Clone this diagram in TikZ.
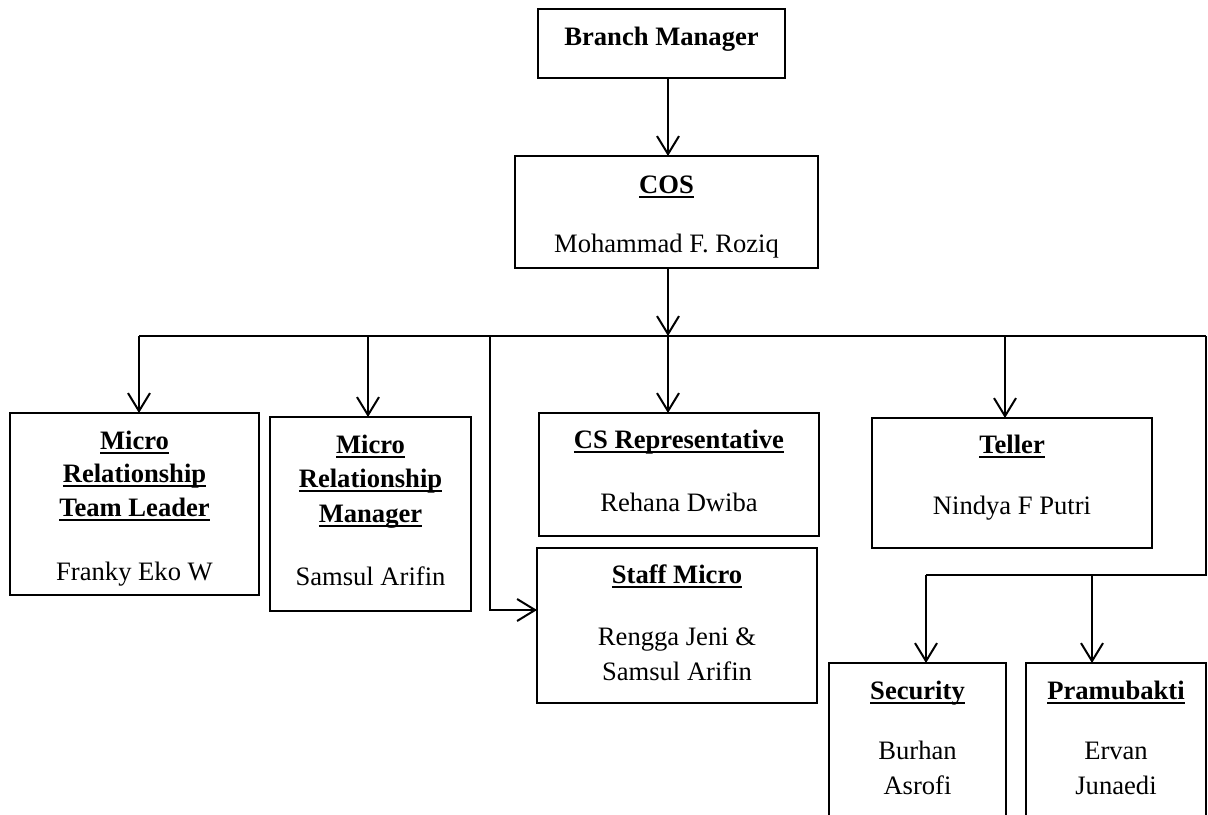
\documentclass[tikz,border=0pt]{standalone}
\usepackage{fontspec}
\setmainfont{Liberation Serif}
\usetikzlibrary{arrows.meta}
\newcommand\ulw[1]{\setbox0\hbox{#1}\leavevmode\rlap{\vrule height -1.3pt depth 2.6pt width \wd0}\box0}
\begin{document}
\begin{tikzpicture}[x=0.5pt,y=-0.5pt,
  box/.style={draw, line width=1pt, inner sep=0pt, outer sep=0pt, rectangle},
  arr/.style={line width=1pt, -{Straight Barb[length=9pt,width=11pt]}},
  conn/.style={line width=1pt},
  lbl/.style={inner sep=0pt, anchor=base, font=\fontsize{13.3}{16}\selectfont},
  hd/.style={inner sep=0pt, anchor=base, font=\fontsize{13.3}{16}\selectfont\bfseries}]
\useasboundingbox (0,0) rectangle (1208,814);
\clip (0,0) rectangle (1208,814);
% boxes
\node[box, minimum width=123.5pt, minimum height=34.5pt] (bm) at (661.5,43.5) {};
\node[box, minimum width=151.5pt, minimum height=56pt] (cos) at (666.5,212) {};
\node[box, minimum width=124.5pt, minimum height=91pt] (mrtl) at (134.5,504) {};
\node[box, minimum width=100.5pt, minimum height=97pt] (mrm) at (370.5,514) {};
\node[box, minimum width=140pt, minimum height=61.5pt] (cs) at (679,474.5) {};
\node[box, minimum width=140pt, minimum height=77.5pt] (sm) at (677,625.5) {};
\node[box, minimum width=140pt, minimum height=65pt] (teller) at (1012,483) {};
\node[box, minimum width=88.5pt, minimum height=88.5pt] (sec) at (917.5,751.5) {};
\node[box, minimum width=90pt, minimum height=88.5pt] (pram) at (1116,751.5) {};
% junction coordinates
\coordinate (j) at (668,336);
\coordinate (hl) at (139,336);
\coordinate (hr) at (1206,336);
\coordinate (d2) at (368,336);
\coordinate (d3) at (490,336);
\coordinate (d5) at (1005,336);
\coordinate (r2) at (1206,575);
\coordinate (l2) at (926,575);
\coordinate (d7) at (1092,575);
% connectors
\draw[arr] (bm.south -| j) -- (cos.north -| j);
\draw[arr] (cos.south -| j) -- (j);
\draw[conn] (hl) -- (hr);
\draw[arr] (hl) -- (hl |- mrtl.north);
\draw[arr] (d2) -- (d2 |- mrm.north);
\draw[arr] (d3) |- ([yshift=7.75pt]sm.west);
\draw[arr] (j) -- (j |- cs.north);
\draw[arr] (d5) -- (d5 |- teller.north);
\draw[conn] (hr) -- (r2) -- (l2);
\draw[arr] (l2) -- (l2 |- sec.north);
\draw[arr] (d7) -- (d7 |- pram.north);
% texts
\node[hd] (bmt) at (661.5,45) {Branch Manager};
\node[hd] (cost) at (666.5,193) {\ulw{COS}};
\node[lbl] (cosn) at (666.5,252) {Mohammad F. Roziq};
\node[hd] (mrtl1) at (134.5,449) {\ulw{Micro}};
\node[hd] (mrtl2) at (134.5,482) {\ulw{Relationship}};
\node[hd] (mrtl3) at (134.5,516) {\ulw{Team Leader}};
\node[lbl] (mrtln) at (134.5,580) {Franky Eko W};
\node[hd] (mrm1) at (370.5,453) {\ulw{Micro}};
\node[hd] (mrm2) at (370.5,487) {\ulw{Relationship}};
\node[hd] (mrm3) at (370.5,522) {\ulw{Manager}};
\node[lbl] (mrmn) at (370.5,585) {Samsul Arifin};
\node[hd] (cst) at (679,448) {\ulw{CS Representative}};
\node[lbl] (csn) at (679,511) {Rehana Dwiba};
\node[hd] (smt) at (677,583) {\ulw{Staff Micro}};
\node[lbl] (smn1) at (677,645) {Rengga Jeni \&};
\node[lbl] (smn2) at (677,680) {Samsul Arifin};
\node[hd] (tlt) at (1012,453) {\ulw{Teller}};
\node[lbl] (tln) at (1012,514) {Nindya F Putri};
\node[hd] (sect) at (917.5,699) {\ulw{Security}};
\node[lbl] (secn1) at (917.5,759) {Burhan};
\node[lbl] (secn2) at (917.5,794) {Asrofi};
\node[hd] (prt) at (1116,699) {\ulw{Pramubakti}};
\node[lbl] (prn1) at (1116,759) {Ervan};
\node[lbl] (prn2) at (1116,794) {Junaedi};
\end{tikzpicture}
\end{document}
